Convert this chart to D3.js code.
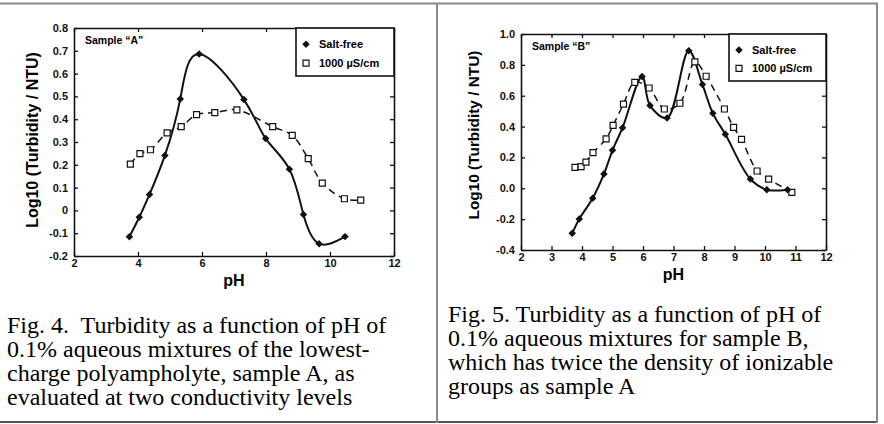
<!DOCTYPE html>
<html>
<head>
<meta charset="utf-8">
<script src="https://cdn.jsdelivr.net/npm/d3@7"></script>
<style>
  html, body { margin: 0; padding: 0; background: #fff; }
  svg text { font-family: "Liberation Sans", Arial, sans-serif; }
  .caption { font-family: "Liberation Serif", "Times New Roman", serif !important; font-size: 24px; white-space: pre; }
</style>
</head>
<body>
<svg id="chart" width="884" height="424"></svg>
<script>
// ---- data ----
// Sample A, salt-free
const phA_saltFree  = [3.73, 4.04, 4.36, 4.84, 5.32, 5.91, 7.31, 7.99, 8.73, 9.17, 9.66, 10.47];
const logA_saltFree = [-0.116, -0.03, 0.07, 0.241, 0.489, 0.686, 0.486, 0.315, 0.181, -0.018, -0.146, -0.115];
// Sample A, 1000 uS/cm
const phA_salt  = [3.76, 4.06, 4.39, 4.91, 5.35, 5.83, 6.40, 7.09, 8.21, 8.82, 9.32, 9.76, 10.45, 10.96];
const logA_salt = [0.203, 0.249, 0.266, 0.34, 0.367, 0.42, 0.429, 0.441, 0.367, 0.329, 0.227, 0.12, 0.051, 0.045];
// Sample B, salt-free
const phB_saltFree  = [3.68, 3.91, 4.35, 4.72, 5.00, 5.33, 5.97, 6.23, 6.79, 7.50, 7.95, 8.29, 8.70, 9.52, 10.06, 10.74];
const logB_saltFree = [-0.292, -0.199, -0.065, 0.093, 0.246, 0.393, 0.725, 0.536, 0.456, 0.892, 0.672, 0.486, 0.35, 0.06, -0.009, -0.009];
// Sample B, 1000 uS/cm
const phB_salt  = [3.77, 3.97, 4.13, 4.36, 4.79, 5.02, 5.36, 5.73, 6.20, 6.70, 7.21, 7.70, 8.07, 8.67, 8.97, 9.23, 9.74, 10.12, 10.88];
const logB_salt = [0.136, 0.14, 0.17, 0.231, 0.32, 0.408, 0.546, 0.687, 0.65, 0.514, 0.551, 0.819, 0.726, 0.514, 0.395, 0.317, 0.112, 0.06, -0.026];

const seriesNames = ["Salt-free", "1000 \u00B5S/cm"];
const sampleLabels = ["Sample \u201CA\u201D", "Sample \u201CB\u201D"];

const xTicksA = [2, 4, 6, 8, 10, 12];
const yTicksA = [-0.2, -0.1, 0, 0.1, 0.2, 0.3, 0.4, 0.5, 0.6, 0.7, 0.8];
const yTickLabelsA = ["-0.2", "-0.1", "0", "0.1", "0.2", "0.3", "0.4", "0.5", "0.6", "0.7", "0.8"];
const xTicksB = [2, 3, 4, 5, 6, 7, 8, 9, 10, 11, 12];
const yTicksB = [-0.4, -0.2, 0, 0.2, 0.4, 0.6, 0.8, 1.0];
const yTickLabelsB = ["-0.4", "-0.2", "0.0", "0.2", "0.4", "0.6", "0.8", "1.0"];

const captionA = [
    "Fig. 4.  Turbidity as a function of pH of",
    "0.1% aqueous mixtures of the lowest-",
    "charge polyampholyte, sample A, as",
    "evaluated at two conductivity levels"
];
const captionB = [
    "Fig. 5. Turbidity as a function of pH of",
    "0.1% aqueous mixtures for sample B,",
    "which has twice the density of ionizable",
    "groups as sample A"
];

const svg = d3.select("#chart");

//Table lines round the two cells
const grid = svg.append("g");
grid.append("line").attr("x1", 0).attr("x2", 878).attr("y1", 3.5).attr("y2", 3.5).attr("stroke", "#8a8a8a").attr("stroke-width", 2);
grid.append("line").attr("x1", 0).attr("x2", 878).attr("y1", 422).attr("y2", 422).attr("stroke", "#555").attr("stroke-width", 2);
grid.append("line").attr("x1", 437).attr("x2", 437).attr("y1", 3).attr("y2", 423).attr("stroke", "#8a8a8a").attr("stroke-width", 2);
grid.append("line").attr("x1", 877).attr("x2", 877).attr("y1", 3).attr("y2", 423).attr("stroke", "#8a8a8a").attr("stroke-width", 2);

function drawPanel(p) {
    const x = d3.scaleLinear().domain([2, 12]).range([p.left, p.right]);
    const y = d3.scaleLinear().domain(p.yDomain).range([p.bottom, p.top]);
    const g = svg.append("g");

    //Axes: ticks point inward on all four sides
    const yFmt = d => p.yLabels[p.yTicks.indexOf(d)];
    const axes = [
        g.append("g").attr("transform", `translate(0,${p.bottom})`)
            .call(d3.axisBottom(x).tickValues(p.xTicks).tickSizeInner(-4).tickSizeOuter(0).tickPadding(3)),
        g.append("g").attr("transform", `translate(${p.left},0)`)
            .call(d3.axisLeft(y).tickValues(p.yTicks).tickFormat(yFmt).tickSizeInner(-4).tickSizeOuter(0).tickPadding(6)),
        g.append("g").attr("transform", `translate(0,${p.top})`)
            .call(d3.axisTop(x).tickValues(p.xTicks).tickSizeInner(-4).tickSizeOuter(0).tickFormat("")),
        g.append("g").attr("transform", `translate(${p.right},0)`)
            .call(d3.axisRight(y).tickValues(p.yTicks).tickSizeInner(-4).tickSizeOuter(0).tickFormat(""))
    ];
    axes.forEach(a => {
        a.select(".domain").attr("stroke", "#111").attr("stroke-width", 1.6);
        a.selectAll(".tick line").attr("stroke", "#111").attr("stroke-width", 1.3);
        a.selectAll("text").attr("font-size", 11).attr("font-weight", "bold").attr("fill", "#111");
    });

    //Axis titles
    g.append("text")
        .attr("transform", `translate(${p.yTitleX},${p.yTitleY}) rotate(-90)`)
        .attr("text-anchor", "middle").attr("dominant-baseline", "central")
        .attr("font-size", p.yTitleSize).attr("font-weight", "bold")
        .text("Log10 (Turbidity / NTU)");
    g.append("text")
        .attr("x", (p.left + p.right) / 2).attr("y", p.xTitleY)
        .attr("text-anchor", "middle").attr("font-size", 16).attr("font-weight", "bold")
        .text("pH");

    //Curves
    const lineFree = d3.line().x(d => x(d[0])).y(d => y(d[1])).curve(p.freeCurve);
    const lineSalt = d3.line().x(d => x(d[0])).y(d => y(d[1])).curve(d3.curveCatmullRom.alpha(0.5));
    const salted = d3.zip(p.phSalt, p.logSalt);
    const free = d3.zip(p.phFree, p.logFree);
    g.append("path").datum(salted).attr("d", lineSalt)
        .attr("fill", "none").attr("stroke", "#111").attr("stroke-width", 1.5).attr("stroke-dasharray", "7,5");
    g.append("path").datum(free).attr("d", lineFree)
        .attr("fill", "none").attr("stroke", "#111").attr("stroke-width", 2);

    //Markers
    const diamond = d3.symbol(d3.symbolSquare, 28);
    const square = d3.symbol(d3.symbolSquare, 36);
    g.selectAll(".sq").data(salted).enter().append("path")
        .attr("d", square)
        .attr("transform", d => `translate(${x(d[0])},${y(d[1])})`)
        .attr("fill", "#fff").attr("stroke", "#111").attr("stroke-width", 1.2);
    g.selectAll(".dm").data(free).enter().append("path")
        .attr("d", diamond)
        .attr("transform", d => `translate(${x(d[0])},${y(d[1])}) rotate(45)`)
        .attr("fill", "#111");

    //Sample label
    g.append("text").attr("x", p.left + 11).attr("y", p.top + 16)
        .attr("font-size", 10.5).attr("font-weight", "bold").text(p.sample);

    //Legend box
    const lg = g.append("g");
    lg.append("rect").attr("x", p.legend[0]).attr("y", p.top).attr("width", p.right - p.legend[0]).attr("height", p.legend[1])
        .attr("fill", "#fff").attr("stroke", "#111").attr("stroke-width", 1.6);
    const sx = p.legend[0] + 10;
    const rows = [p.top + p.legend[1] * 0.34, p.top + p.legend[1] * 0.73];
    lg.append("path").attr("d", diamond).attr("transform", `translate(${sx},${rows[0]}) rotate(45)`).attr("fill", "#111");
    lg.append("path").attr("d", square).attr("transform", `translate(${sx},${rows[1]})`)
        .attr("fill", "#fff").attr("stroke", "#111").attr("stroke-width", 1.2);
    seriesNames.forEach((s, i) => {
        lg.append("text").attr("x", sx + 13).attr("y", rows[i]).attr("dominant-baseline", "central")
            .attr("font-size", 11).attr("font-weight", "bold").text(s);
    });

    //Caption
    g.selectAll(".cap").data(p.caption).enter().append("text")
        .attr("class", "caption")
        .attr("x", p.capX).attr("y", (d, i) => p.capY + i * 24)
        .attr("fill", "#000")
        .text(d => d);
}

drawPanel({
    left: 74, right: 394, top: 28, bottom: 256, yDomain: [-0.2, 0.8],
    xTicks: xTicksA, yTicks: yTicksA, yLabels: yTickLabelsA,
    phFree: phA_saltFree, logFree: logA_saltFree, phSalt: phA_salt, logSalt: logA_salt,
    freeCurve: d3.curveNatural,
    yTitleX: 32, yTitleY: 140, yTitleSize: 16, xTitleY: 286,
    sample: sampleLabels[0], legend: [296, 48],
    caption: captionA, capX: 7, capY: 333
});

drawPanel({
    left: 521, right: 826, top: 34, bottom: 250, yDomain: [-0.4, 1.0],
    xTicks: xTicksB, yTicks: yTicksB, yLabels: yTickLabelsB,
    phFree: phB_saltFree, logFree: logB_saltFree, phSalt: phB_salt, logSalt: logB_salt,
    freeCurve: d3.curveCatmullRom.alpha(0.5),
    yTitleX: 473, yTitleY: 135, yTitleSize: 15.4, xTitleY: 280,
    sample: sampleLabels[1], legend: [729, 47],
    caption: captionB, capX: 448, capY: 322
});
</script>
</body>
</html>
